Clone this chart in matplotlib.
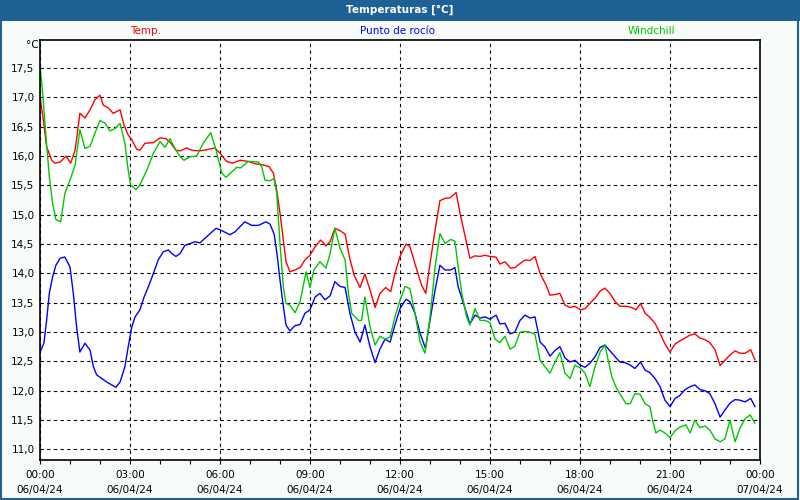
import matplotlib
matplotlib.use("Agg")
import matplotlib.pyplot as plt
from matplotlib.patches import Rectangle
from matplotlib.ticker import FuncFormatter, MultipleLocator

# horas desde las 00:00 del 06/04/24
temp_t = [0.0, 0.11, 0.22, 0.39, 0.5, 0.67, 0.87, 1.02, 1.17, 1.33, 1.5, 1.67, 1.83, 2.0, 2.11,
          2.28, 2.44, 2.67, 2.8, 2.94, 3.06, 3.22, 3.33, 3.5, 3.78, 4.0, 4.2, 4.36, 4.53, 4.67,
          4.89, 5.06, 5.33, 5.56, 5.83, 6.0, 6.22, 6.42, 6.67,
          6.94, 7.17, 7.44, 7.64, 7.78, 7.89, 8.0, 8.11, 8.2, 8.33, 8.5, 8.67, 8.83, 9.0, 9.17,
          9.36, 9.53, 9.67, 9.83, 10.0, 10.17, 10.31, 10.47, 10.67, 10.83, 11.0, 11.17, 11.33,
          11.52, 11.69, 11.83, 12.0, 12.2, 12.33, 12.56, 12.72, 12.86,
          13.0, 13.17, 13.33, 13.5, 13.67, 13.87, 14.0, 14.17, 14.33, 14.5, 14.67, 14.83, 15.0,
          15.2, 15.33, 15.5, 15.69, 15.83, 16.0, 16.17, 16.33, 16.5, 16.67, 16.87, 17.0, 17.17,
          17.33, 17.5, 17.67, 17.83, 18.02, 18.17, 18.33, 18.5,
          18.67, 18.83, 19.0, 19.17, 19.33, 19.56, 19.72, 19.87, 20.02, 20.17, 20.33, 20.5,
          20.67, 20.83, 21.0, 21.17, 21.33, 21.5, 21.67, 21.83, 22.0, 22.17, 22.33, 22.5, 22.67,
          22.83, 23.0, 23.17, 23.33, 23.5, 23.69, 23.83]
temp_v = [17.02, 16.62, 16.16, 15.93, 15.88, 15.9, 16.0, 15.88, 16.1, 16.73, 16.65, 16.79, 16.96,
          17.04, 16.87, 16.82, 16.73, 16.79, 16.53, 16.36, 16.28, 16.12, 16.1, 16.22, 16.23, 16.31,
          16.3, 16.22, 16.1, 16.09, 16.14, 16.1, 16.09, 16.11, 16.14, 16.05, 15.91, 15.88, 15.93,
          15.91, 15.87, 15.85, 15.82, 15.71, 15.42, 15.03, 14.57, 14.2, 14.03, 14.06, 14.1, 14.23,
          14.31, 14.46, 14.57, 14.47, 14.54, 14.77, 14.73, 14.67, 14.29, 13.97, 13.76, 13.99, 13.72,
          13.42, 13.66, 13.76, 13.69, 14.0, 14.29, 14.5, 14.46, 14.06, 13.8, 13.66,
          14.17, 14.74, 15.24, 15.28, 15.29, 15.38, 15.03, 14.63, 14.26, 14.3, 14.29, 14.31, 14.29,
          14.28, 14.16, 14.2, 14.09, 14.1, 14.17, 14.23, 14.22, 14.29, 14.0, 13.8, 13.63, 13.64,
          13.66, 13.46, 13.42, 13.44, 13.38, 13.4, 13.49, 13.58,
          13.7, 13.75, 13.66, 13.52, 13.44, 13.44, 13.42, 13.38, 13.49, 13.32, 13.25, 13.15, 12.98,
          12.8, 12.66, 12.8, 12.85, 12.9, 12.95, 12.97, 12.9, 12.87, 12.82, 12.7, 12.43, 12.52,
          12.61, 12.68, 12.64, 12.64, 12.7, 12.53]

rocio_t = [0.0, 0.13, 0.22, 0.31, 0.42, 0.53, 0.67, 0.83, 1.0, 1.11, 1.22, 1.33, 1.5, 1.67, 1.78,
           1.89, 2.06, 2.22, 2.39, 2.53, 2.67, 2.83, 2.94, 3.06, 3.17, 3.33, 3.47, 3.61, 3.78, 3.94,
           4.11, 4.28, 4.39, 4.53, 4.67, 4.83, 5.0, 5.17, 5.33, 5.5, 5.67, 5.87, 6.06,
           6.33, 6.5, 6.67, 6.83, 7.06, 7.28, 7.53, 7.67, 7.81, 7.91, 8.0, 8.09, 8.2, 8.33, 8.5,
           8.67, 8.83, 9.0, 9.17, 9.33, 9.5, 9.67, 9.83, 10.0, 10.17, 10.33, 10.5, 10.67, 10.83,
           11.0, 11.17, 11.33, 11.5, 11.67, 11.83, 12.0, 12.2, 12.33, 12.5, 12.67,
           12.85, 13.0, 13.17, 13.33, 13.5, 13.69, 13.83, 13.94, 14.06, 14.22, 14.33, 14.5, 14.67,
           14.83, 15.0, 15.2, 15.33, 15.5, 15.67, 15.83, 16.0, 16.17, 16.33, 16.5, 16.67, 16.83,
           17.0, 17.17, 17.33, 17.5, 17.67, 17.83, 18.0, 18.17, 18.33, 18.5,
           18.67, 18.83, 19.0, 19.17, 19.33, 19.5, 19.67, 19.83, 20.02, 20.17, 20.33, 20.5, 20.67,
           20.83, 21.0, 21.17, 21.33, 21.5, 21.67, 21.83, 22.0, 22.17, 22.33, 22.5, 22.67, 22.83,
           23.0, 23.17, 23.33, 23.5, 23.69, 23.83]
rocio_v = [12.66, 12.81, 13.2, 13.66, 13.94, 14.14, 14.26, 14.28, 14.11, 13.66, 13.09, 12.66, 12.81,
           12.69, 12.41, 12.27, 12.21, 12.15, 12.1, 12.06, 12.15, 12.41, 12.75, 13.09, 13.26, 13.38,
           13.6, 13.77, 14.0, 14.23, 14.37, 14.4, 14.34, 14.29, 14.34, 14.48, 14.51, 14.54, 14.52,
           14.6, 14.68, 14.77, 14.73,
           14.66, 14.71, 14.8, 14.88, 14.82, 14.82, 14.88, 14.84, 14.66, 14.29, 13.89, 13.52, 13.12,
           13.02, 13.11, 13.13, 13.32, 13.38, 13.6, 13.66, 13.55, 13.62, 13.86, 13.78, 13.76, 13.32,
           13.0, 12.83, 13.12, 12.75, 12.48, 12.71, 12.88, 12.83, 13.12, 13.4, 13.56, 13.52, 13.32,
           12.98,
           12.72, 13.2, 13.72, 14.14, 14.06, 14.06, 14.1, 13.77, 13.58, 13.32, 13.14, 13.29, 13.24,
           13.26, 13.22, 13.29, 13.14, 13.15, 12.97, 13.0, 13.2, 13.29, 13.24, 13.26, 12.83, 12.75,
           12.59, 12.69, 12.75, 12.56, 12.49, 12.52, 12.44, 12.4, 12.47, 12.58,
           12.74, 12.78, 12.68, 12.58, 12.49, 12.48, 12.44, 12.38, 12.49, 12.35, 12.31, 12.21, 12.07,
           11.84, 11.73, 11.87, 11.92, 12.02, 12.07, 12.1, 12.02, 12.0, 11.95, 11.78, 11.55, 11.67,
           11.79, 11.85, 11.84, 11.81, 11.87, 11.73]

wind_t = [0.0, 0.09, 0.2, 0.31, 0.42, 0.53, 0.69, 0.83, 1.0, 1.17, 1.33, 1.5, 1.67, 1.83, 2.0,
          2.17, 2.33, 2.5, 2.67, 2.83, 2.94, 3.02, 3.2, 3.33, 3.56, 3.78, 4.0, 4.17, 4.33, 4.5,
          4.67, 4.8, 5.0, 5.22, 5.44, 5.69, 5.87, 6.06, 6.2, 6.39, 6.56,
          6.69, 6.94, 7.28, 7.39, 7.5, 7.67, 7.8, 7.89, 8.0, 8.11, 8.2, 8.33, 8.5, 8.67, 8.87,
          9.0, 9.13, 9.33, 9.53, 9.67, 9.83, 10.0, 10.17, 10.28, 10.39, 10.61, 10.72, 10.83, 11.0,
          11.17, 11.33, 11.5, 11.67, 11.83, 12.0, 12.17, 12.33, 12.5, 12.67,
          12.83, 13.0, 13.17, 13.33, 13.5, 13.69, 13.83, 13.94, 14.06, 14.22, 14.33, 14.5, 14.67,
          14.83, 15.0, 15.17, 15.33, 15.5, 15.67, 15.83, 16.0, 16.17, 16.33, 16.5, 16.67, 16.83,
          17.0, 17.17, 17.33, 17.5, 17.67, 17.83, 18.0, 18.17, 18.33, 18.5,
          18.67, 18.83, 18.94, 19.06, 19.22, 19.39, 19.53, 19.67, 19.83, 20.0, 20.17, 20.33, 20.42,
          20.53, 20.67, 20.83, 21.0, 21.17, 21.33, 21.53, 21.67, 21.83, 22.0, 22.17, 22.33, 22.5,
          22.67, 22.83, 23.0, 23.17, 23.33, 23.5, 23.67, 23.83]
wind_v = [17.55, 17.07, 16.33, 15.65, 15.2, 14.92, 14.88, 15.37, 15.59, 15.85, 16.45, 16.13, 16.17,
          16.39, 16.61, 16.56, 16.43, 16.47, 16.56, 16.22, 15.76, 15.51, 15.43, 15.51, 15.76, 16.05,
          16.25, 16.15, 16.3, 16.13, 15.99, 15.93, 15.99, 16.0, 16.22, 16.4, 16.1, 15.71, 15.64,
          15.73, 15.81,
          15.8, 15.91, 15.9, 15.82, 15.59, 15.58, 15.62, 15.37, 14.51, 13.77, 13.49, 13.46, 13.33,
          13.52, 14.03, 13.76, 14.06, 14.2, 14.09, 14.34, 14.77, 14.43, 14.23, 13.66, 13.32, 13.2,
          13.2, 13.6, 13.09, 12.78, 12.93, 12.88, 12.92, 13.26, 13.54, 13.78, 13.74, 13.32, 12.83,
          12.64, 13.25, 14.11, 14.68, 14.51, 14.58, 14.55, 14.11, 13.66, 13.26, 13.12, 13.4, 13.2,
          13.2, 13.16, 12.88, 12.82, 12.93, 12.71, 12.76, 13.0, 13.01, 13.0, 12.96, 12.52, 12.41,
          12.3, 12.49, 12.65, 12.3, 12.21, 12.44, 12.39, 12.3, 12.07, 12.41,
          12.66, 12.78, 12.52, 12.24, 12.04, 11.9, 11.78, 11.78, 11.95, 11.94, 11.78, 11.73, 11.5,
          11.28, 11.33, 11.28, 11.2, 11.32, 11.38, 11.42, 11.28, 11.5, 11.37, 11.4, 11.33, 11.18,
          11.13, 11.18, 11.5, 11.13, 11.36, 11.52, 11.59, 11.45]

horas = [0, 3, 6, 9, 12, 15, 18, 21, 24]
etiquetas = ["00:00\n06/04/24", "03:00\n06/04/24", "06:00\n06/04/24", "09:00\n06/04/24",
             "12:00\n06/04/24", "15:00\n06/04/24", "18:00\n06/04/24", "21:00\n06/04/24",
             "00:00\n07/04/24"]

azul_titulo = "#1e6195"
fondo = "#f8fcf9"
c_temp = "#ff0000"
c_rocio = "#0000ff"
c_wind = "#00c800"

plt.rcParams['font.family'] = ['DejaVu Sans']

fig = plt.figure(figsize=(8, 5), dpi=100, facecolor=fondo)
ax = fig.add_axes([40/800, 40/500, 720/800, 420/500])
ax.set_facecolor("white")

ax.plot(temp_t, temp_v, color=c_temp, lw=1)
ax.plot(rocio_t, rocio_v, color=c_rocio, lw=1)
ax.plot(wind_t, wind_v, color=c_wind, lw=1)

ax.set_xlim(0, 24)
ax.set_ylim(10.82, 17.98)
ax.set_xticks(horas)
ax.set_xticklabels(etiquetas, fontsize=7.5, linespacing=1.6)
ax.xaxis.set_minor_locator(MultipleLocator(1))
ax.yaxis.set_major_locator(MultipleLocator(0.5))
ax.yaxis.set_major_formatter(FuncFormatter(lambda v, p: ("%.1f" % v).replace(".", ",")))
ax.tick_params(axis='y', length=0, pad=4, labelsize=7.5)
ax.tick_params(axis='x', which='both', length=3, width=0.8, direction='out', pad=4)

ax.grid(True, which='major', color='black', linestyle=(0, (3, 3)), linewidth=0.8)
for s in ax.spines.values():
    s.set_linewidth(1.2)
    s.set_color('black')

# barra del título
fig.patches.append(Rectangle((0, 1 - 21/500), 1, 21/500, transform=fig.transFigure,
                             facecolor=azul_titulo, edgecolor='none', zorder=0))
fig.patches.append(Rectangle((0.001, 0.002), 0.997, 0.99, transform=fig.transFigure,
                             facecolor='none', edgecolor=azul_titulo, lw=1.5, zorder=0))
fig.text(0.5, 1 - 10/500, "Temperaturas [°C]", color='white', fontsize=7.5, fontweight='bold',
         ha='center', va='center')

fig.text(146/800, 1 - 31/500, "Temp.", color=c_temp, fontsize=7.5, ha='center', va='center')
fig.text(398/800, 1 - 31/500, "Punto de rocío", color=c_rocio, fontsize=7.5, ha='center', va='center')
fig.text(651/800, 1 - 31/500, "Windchill", color=c_wind, fontsize=7.5, ha='center', va='center')
fig.text(32/800, 1 - 45/500, "°C", color='black', fontsize=7.5, ha='center', va='center')

fig.savefig("out.png", dpi=100, facecolor=fondo)
